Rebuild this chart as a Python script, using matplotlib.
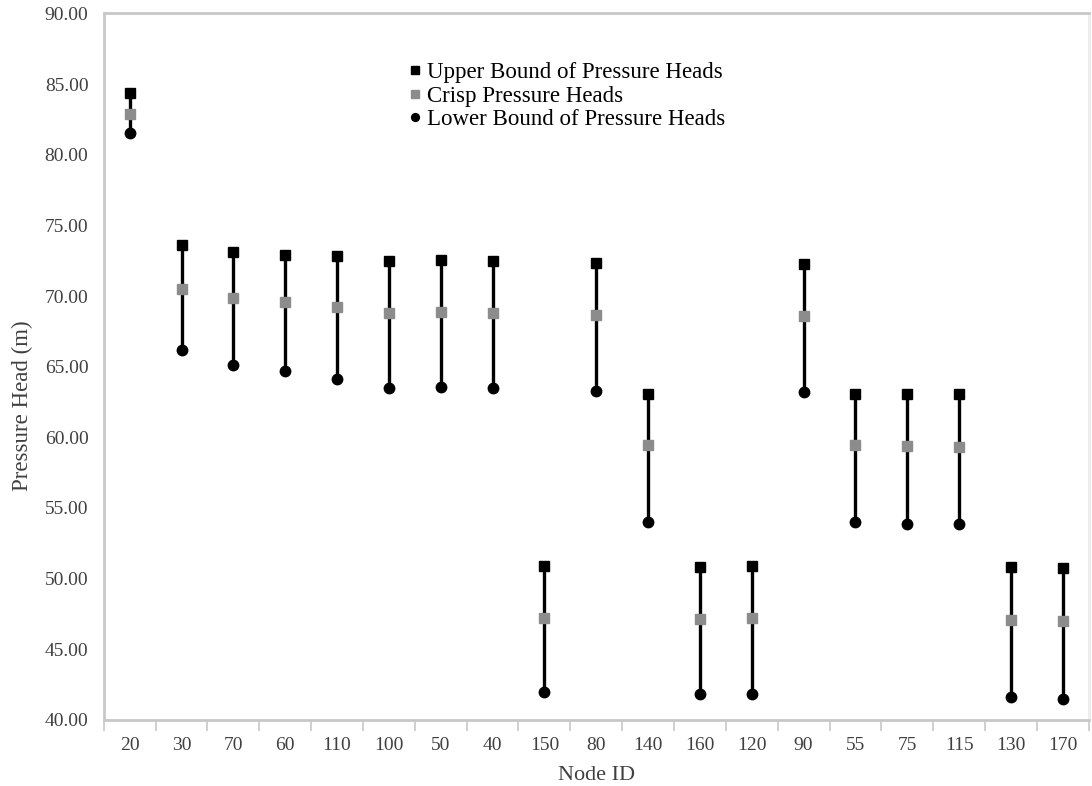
import numpy as np
import matplotlib.pyplot as plt
from matplotlib.ticker import FixedLocator, FormatStrFormatter

plt.rcParams['font.family'] = ['Liberation Serif', 'DejaVu Serif']

# data
nodes = ["20", "30", "70", "60", "110", "100", "50", "40", "150", "80",
         "140", "160", "120", "90", "55", "75", "115", "130", "170"]
upper = [84.4, 73.6, 73.1, 72.9, 72.8, 72.45, 72.55, 72.45, 50.9, 72.35,
         63.1, 50.85, 50.9, 72.25, 63.1, 63.05, 63.05, 50.85, 50.75]
crisp = [82.9, 70.5, 69.85, 69.55, 69.25, 68.8, 68.85, 68.8, 47.25, 68.65,
         59.45, 47.15, 47.2, 68.55, 59.45, 59.4, 59.35, 47.1, 47.0]
lower = [81.5, 66.15, 65.1, 64.7, 64.1, 63.5, 63.55, 63.5, 42.0, 63.3,
         54.0, 41.85, 41.85, 63.2, 54.0, 53.9, 53.9, 41.65, 41.45]

fig = plt.figure(figsize=(10.92, 7.86), dpi=100)
ax = fig.add_axes([0.095, 0.084, 0.902, 0.899])

x = np.arange(len(nodes))

# vertical range lines
ax.vlines(x, lower, upper, color="black", lw=2.4, zorder=1)
ax.plot(x, upper, ls="none", marker="s", ms=7.5, color="black",
        label="Upper Bound of Pressure Heads", zorder=3)
ax.plot(x, crisp, ls="none", marker="s", ms=7.5, color="#8c8c8c",
        label="Crisp Pressure Heads", zorder=3)
ax.plot(x, lower, ls="none", marker="o", ms=7.5, color="black",
        label="Lower Bound of Pressure Heads", zorder=3)

ax.set_xlim(-0.5, len(nodes) - 0.5)
ax.set_ylim(40, 90)
ax.set_yticks(np.arange(40, 91, 5))
ax.yaxis.set_major_formatter(FormatStrFormatter("%.2f"))

ax.set_xticks(x)
ax.set_xticklabels(nodes)
ax.xaxis.set_minor_locator(FixedLocator(np.arange(-0.5, len(nodes), 1)))
ax.tick_params(axis="x", which="major", length=0, pad=12, labelsize=14, labelcolor="#404040")
ax.tick_params(axis="x", which="minor", length=8, color="#c8c8c8", width=1.2, direction="out")
ax.tick_params(axis="y", length=0, pad=11, labelsize=14, labelcolor="#404040")

for s in ax.spines.values():
    s.set_color("#c8c8c8")
    s.set_linewidth(2)
ax.spines["right"].set_color("#ececec")

ax.set_xlabel("Node ID", fontsize=16, color="#404040", labelpad=9)
ax.set_ylabel("Pressure Head (m)", fontsize=16.5, color="#404040")
ax.yaxis.set_label_coords(-0.072, 0.445)

ax.legend(loc="upper left", bbox_to_anchor=(0.285, 0.96), frameon=False,
          fontsize=16.5, handletextpad=0.05, handlelength=0.9, labelspacing=0.1,
          markerscale=0.75)

fig.savefig("out.png", dpi=100)
